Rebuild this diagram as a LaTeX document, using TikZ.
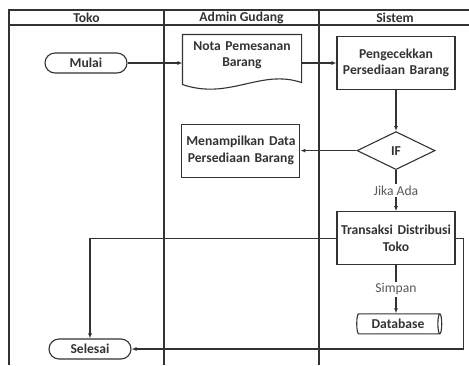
\documentclass[tikz,border=0pt]{standalone}
\usepackage{fontspec}
\setmainfont{Carlito}
\usetikzlibrary{arrows.meta,positioning,shapes.geometric}

\begin{document}
\begin{tikzpicture}[x=1pt, y=-1pt, node distance=41pt and 56pt,
  >={Latex[length=5pt,width=4pt]}, line width=1.1pt, color=black!80,
  head/.style={font=\fontsize{13.6}{16}\selectfont\bfseries, inner sep=0pt},
  box/.style={draw, align=center, text width=116pt, inner xsep=1pt,
    minimum height=53pt, font=\fontsize{13.6}{16.5}\selectfont\bfseries},
  doc/.style={align=center, text width=116pt, inner xsep=1pt,
    minimum height=40pt, font=\fontsize{13.6}{16.5}\selectfont\bfseries},
  term/.style={draw, rounded corners=10pt, minimum width=82pt, minimum height=20pt,
    inner sep=0pt, font=\fontsize{13.6}{16}\selectfont\bfseries},
  dec/.style={draw, diamond, minimum width=78pt, minimum height=38pt, inner sep=0pt,
    font=\fontsize{13.6}{16}\selectfont\bfseries},
  db/.style={draw, cylinder, aspect=0.4, minimum height=85pt, minimum width=20pt,
    inner sep=0pt, font=\fontsize{13.6}{16}\selectfont\bfseries},
  lbl/.style={fill=white, text=black!65, inner sep=1.5pt,
    font=\fontsize{13.6}{16}\selectfont},
  arr/.style={->}]
  \useasboundingbox (0,0) rectangle (469,365);
  \draw (9,365) -- (9,10) -- (469,10);
  \draw (9,25) -- (469,25);
  \draw (164,10) -- (164,365);
  \draw (319,10) -- (319,365);
  \node[head] (hToko) at (86.5,17.5) {Toko};
  \node[head] (hAdmin) at (241.5,17.5) {Admin Gudang};
  \node[head] (hSistem) at (395,17.5) {Sistem};

  \node[term] (mulai) at (86,63) {Mulai};
  \node[doc] (nota) at (242,55) {Nota Pemesanan\\Barang};
  \draw (nota.north west) -- (nota.north east) -- ([yshift=-7pt]nota.south east)
    .. controls ([xshift=-41pt,yshift=7pt]nota.south east)
    and ([xshift=47pt,yshift=-25pt]nota.south west) .. ([yshift=-9pt]nota.south west) -- cycle;
  \node[box] (cek) at (396,63) {Pengecekkan\\Persediaan Barang};
  \node[dec, below=of cek] (if) {IF};
  \node[box, left=of if] (tampil) {Menampilkan Data\\Persediaan Barang};
  \node[box, below=of if] (trans) {Transaksi Distribusi\\Toko};
  \node[db, below=48pt of trans, xshift=2pt] (db) {Database};
  \node[term] (selesai) at (90,349) {Selesai};

  \draw[arr] (mulai) -- (mulai -| nota.west);
  \draw[arr] (cek -| nota.east) -- (cek);
  \draw[arr] (cek) -- (if);
  \draw[arr] (if) -- (tampil);
  \draw[arr] (if) -- node[lbl] {Jika Ada} (trans);
  \draw[arr] (trans) -- node[lbl] {Simpan} (trans |- db.north);
  \draw[arr] (trans.west) -| (selesai.north);
  \draw[arr] (trans.east) -- ++(8pt,0) |- (selesai.east);
\end{tikzpicture}
\end{document}
